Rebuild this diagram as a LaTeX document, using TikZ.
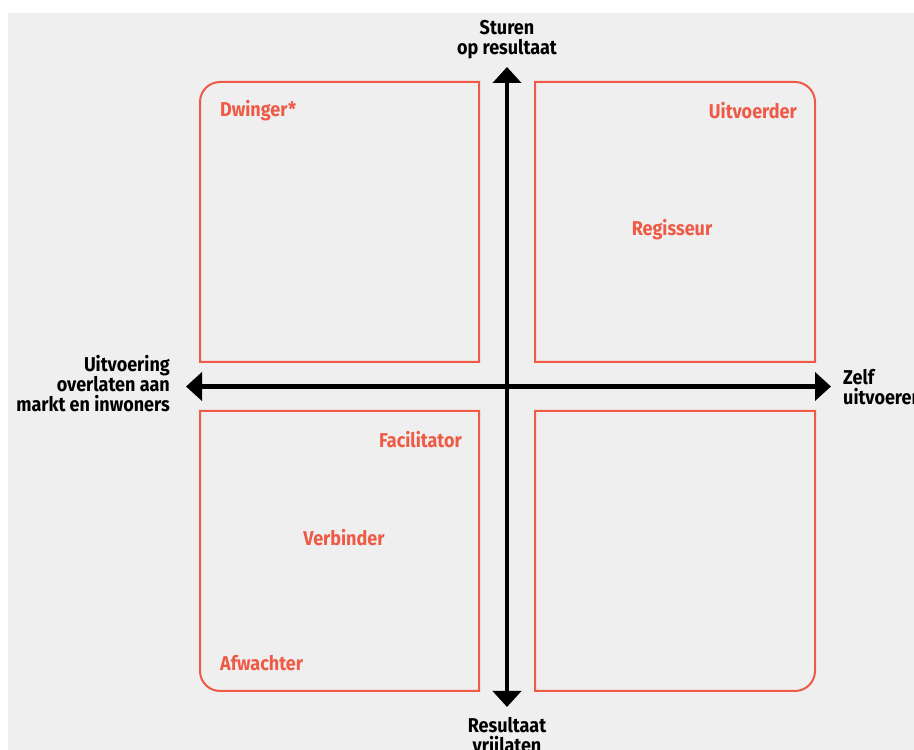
\documentclass[tikz,border=0pt]{standalone}
\usepackage{fontspec}
\setmainfont[FakeStretch=0.9]{Fira Sans}
\usepackage{tikz}
\usetikzlibrary{arrows.meta}

\definecolor{vakrood}{HTML}{EE5A45}
\definecolor{achtergrond}{HTML}{EFEFEF}

\begin{document}
\begin{tikzpicture}[x=1pt,y=1pt,
    quadrant/.style={draw=vakrood, line width=2pt},
    axislabel/.style={font=\bfseries\fontsize{20}{20}\selectfont, text=black, inner sep=0pt},
    rolelabel/.style={font=\bfseries\fontsize{20}{20}\selectfont, text=vakrood, inner sep=0pt},
    axis/.style={line width=4.5pt, -{Triangle[width=28pt,length=16pt]}}]
    % Canvas with its white margins at the top and on the left
    \clip (0,0) rectangle (914,750);
    \fill[white] (0,0) rectangle (914,750);
    \fill[achtergrond] (8,0) rectangle (914,737);

    % The four quadrants, each with one rounded outer corner
    \draw[quadrant] (479,388) -- (200,388) -- (200,648) arc[start angle=180, end angle=90, radius=20] -- (479,668) -- cycle;
    \draw[quadrant] (535,388) -- (535,668) -- (795,668) arc[start angle=90, end angle=0, radius=20] -- (815,388) -- cycle;
    \draw[quadrant] (479,339) -- (200,339) -- (200,79) arc[start angle=180, end angle=270, radius=20] -- (479,59) -- cycle;
    \draw[quadrant] (535,339) -- (815,339) -- (815,79) arc[start angle=0, end angle=-90, radius=20] -- (535,59) -- cycle;

    % Axes from the centre outwards
    \coordinate (O) at (507,363.5);
    \coordinate (top) at (507,683);
    \coordinate (bottom) at (507,43);
    \coordinate (left) at (186,363.5);
    \coordinate (right) at (831,363.5);
    \draw[axis] (O) -- (top);
    \draw[axis] (O) -- (bottom);
    \draw[axis] (O) -- (left);
    \draw[axis] (O) -- (right);

    % Axis labels
    \node[axislabel, align=center, anchor=south] (sturen) at (507,691) {Sturen\\op resultaat};
    \node[axislabel, align=right, anchor=east] (overlaten) at (170,366) {Uitvoering\\overlaten aan\\markt en inwoners};
    \node[axislabel, align=left, anchor=west] (zelf) at (843,363) {Zelf\\uitvoeren};
    \node[axislabel, align=center, anchor=north] (vrijlaten) at (507,33) {Resultaat\\vrijlaten};

    % Roles inside the quadrants
    \node[rolelabel, anchor=west] (dwinger) at (220,639) {Dwinger*};
    \node[rolelabel, anchor=east] (uitvoerder) at (797,639) {Uitvoerder};
    \node[rolelabel] (regisseur) at (672,520) {Regisseur};
    \node[rolelabel, anchor=east] (facilitator) at (462,310) {Facilitator};
    \node[rolelabel] (verbinder) at (344,212) {Verbinder};
    \node[rolelabel, anchor=west] (afwachter) at (220,87) {Afwachter};
\end{tikzpicture}
\end{document}
